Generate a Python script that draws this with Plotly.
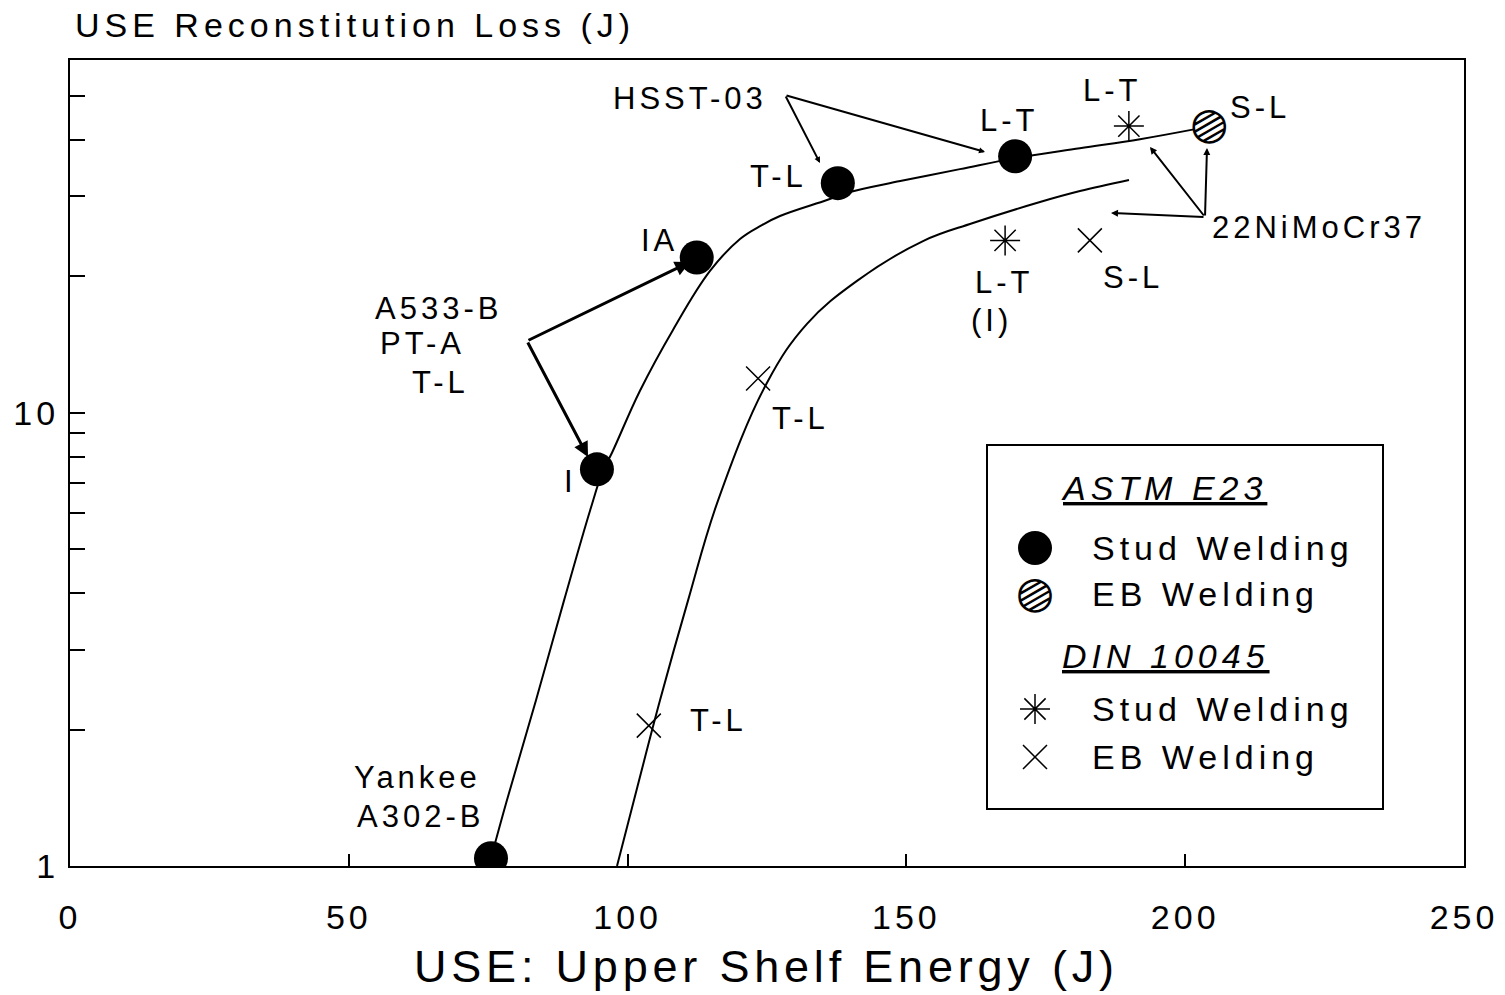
import math
import plotly.graph_objects as go

# ---------------- data ----------------
# ASTM E23 reconstitution, stud welding (filled circles)
use_stud_astm = [75.5, 94.5, 112.4, 137.7, 169.5]
loss_stud_astm = [1.04, 7.5, 22.0, 32.1, 36.8]
# ASTM E23, EB welding (hatched circle)
use_eb_astm = [204.4]
loss_eb_astm = [43.3]
# DIN 10045, stud welding (asterisks)
use_stud_din = [189.9, 167.7]
loss_stud_din = [42.9, 24.0]
# DIN 10045, EB welding (crosses)
use_eb_din = [182.9, 123.4, 103.8]
loss_eb_din = [24.0, 11.9, 2.04]

# hand-drawn trend curves
curve_a_use = [75.5, 78.37, 83.57, 88.59, 93.26, 95.59, 97.2, 102.22, 108.14,
               114.78, 120.16, 124.0, 127.33, 135.76, 139.88, 148.9, 159.6,
               169.5, 181.1, 191.9, 201.8]
curve_a_loss = [1.04, 1.398, 2.32, 3.85, 6.08, 7.45, 8.16, 11.18, 15.23,
                20.55, 24.17, 25.9, 27.16, 29.46, 30.68, 32.44, 34.47,
                36.45, 38.34, 40.13, 42.23]
curve_b_use = [98.1, 101.15, 105.81, 110.83, 116.21, 125.0, 132.17,
               141.14, 152.98, 161.94, 173.96, 181.13, 189.92]
curve_b_loss = [1.0, 1.398, 2.32, 3.85, 6.40, 11.65, 15.71,
                19.54, 23.92, 26.21, 29.16, 30.83, 32.61]

x_ticks = [0, 50, 100, 150, 200, 250]
y_ticks = [1, 2, 3, 4, 5, 6, 7, 8, 9, 10, 20, 30, 40, 50]
y_labels = {1: "1", 10: "10"}

# ---------------- page geometry ----------------
W, H = 1505, 995
L, R, T, B = 70, 1464, 60, 866          # plot area edges in pixels
FONT = "Liberation Sans"


def px(x):
    return (x - L) / (R - L)


def py(y):
    return (B - y) / (B - T)


def spaced(text, ls):
    return f"<span style='letter-spacing:{ls}px'>{text}</span>"


fig = go.Figure()

line_style = dict(color="black", width=2)
fig.add_trace(go.Scatter(x=curve_a_use, y=curve_a_loss, mode="lines",
                         line=dict(shape="spline", smoothing=1.1, **line_style),
                         hoverinfo="skip", showlegend=False))
fig.add_trace(go.Scatter(x=curve_b_use, y=curve_b_loss, mode="lines",
                         line=dict(shape="spline", smoothing=1.1, **line_style),
                         hoverinfo="skip", showlegend=False))

fig.add_trace(go.Scatter(x=use_stud_astm, y=loss_stud_astm, mode="markers",
                         marker=dict(symbol="circle", size=34, color="black"),
                         name="ASTM E23 Stud Welding", showlegend=False))
fig.add_trace(go.Scatter(x=use_eb_astm, y=loss_eb_astm, mode="markers",
                         marker=dict(symbol="circle", size=34, color="white",
                                     line=dict(color="white", width=0)),
                         name="ASTM E23 EB Welding", showlegend=False))
fig.add_trace(go.Scatter(x=use_stud_din, y=loss_stud_din, mode="markers",
                         marker=dict(symbol="asterisk-open", size=25, color="black",
                                     line=dict(color="black", width=1.5)),
                         name="DIN 10045 Stud Welding", showlegend=False))
fig.add_trace(go.Scatter(x=use_eb_din, y=loss_eb_din, mode="markers",
                         marker=dict(symbol="x-thin-open", size=24, color="black",
                                     line=dict(color="black", width=1.5)),
                         name="DIN 10045 EB Welding", showlegend=False))

annotations = []
HATCH = "\u25cd"


def hatched(x, y, xref, yref):
    annotations.append(dict(x=x, y=y, xref=xref, yref=yref, text=HATCH,
                            showarrow=False, textangle=60, xshift=3,
                            xanchor="center", yanchor="middle",
                            font=dict(family="DejaVu Sans", size=44, color="black")))


for u, l in zip(use_eb_astm, loss_eb_astm):
    hatched(u, math.log10(l), "x", "y")

# point labels (pixel positions -> paper)
lab_font = dict(family=FONT, size=31, color="black")
labels = [
    ("HSST-03", 690, 98), ("T-L", 778, 176), ("L-T", 1009, 120),
    ("L-T", 1112, 90), ("S-L", 1260, 107), ("22NiMoCr37", 1319, 227),
    ("L-T", 1004, 282), ("(I)", 991, 320), ("S-L", 1133, 277),
    ("IA", 659, 240), ("A533-B", 438, 308), ("PT-A", 422, 343),
    ("T-L", 441, 383), ("I", 570, 482), ("T-L", 800, 418),
    ("T-L", 718, 720), ("Yankee", 417, 777), ("A302-B", 420, 816),
]
for txt, xx, yy in labels:
    annotations.append(dict(x=px(xx), y=py(yy), xref="paper", yref="paper",
                            text=spaced(txt, 4), showarrow=False, font=lab_font,
                            xanchor="center", yanchor="middle"))

# leader arrows: (tail px, head px, width, head size)
arrows = [
    ((527, 341), (588, 457), 3, 1.0),
    ((527, 341), (690, 262), 3, 1.0),
    ((785, 95), (820, 163), 2, 0.6),
    ((785, 95), (985, 152), 2, 0.6),
    ((1205, 217), (1150, 147), 2, 0.7),
    ((1205, 217), (1207, 148), 2, 0.7),
    ((1205, 217), (1111, 213), 2, 0.7),
]
for (tx, ty), (hx, hy), w, s in arrows:
    annotations.append(dict(x=px(hx), y=py(hy), xref="paper", yref="paper",
                            ax=tx - hx, ay=ty - hy, text="", showarrow=True,
                            arrowhead=2, arrowsize=s, arrowwidth=w,
                            arrowcolor="black", standoff=0, startstandoff=0))

# axis captions
annotations.append(dict(x=px(73), y=py(25), xref="paper", yref="paper",
                        text=spaced("USE Reconstitution Loss (J)", 5),
                        showarrow=False, xanchor="left", yanchor="middle",
                        font=dict(family=FONT, size=34, color="black")))
annotations.append(dict(x=px(766), y=py(966), xref="paper", yref="paper",
                        text=spaced("USE: Upper Shelf Energy (J)", 4.8),
                        showarrow=False, xanchor="center", yanchor="middle",
                        font=dict(family=FONT, size=45, color="black")))

# legend box
leg_font = dict(family=FONT, size=34, color="black")
hdr_font = dict(family=FONT, size=34, color="black", style="italic",
                lineposition="under")
annotations.append(dict(x=px(1164), y=py(488), xref="paper", yref="paper",
                        text=spaced("ASTM E23", 5), showarrow=False, font=hdr_font,
                        xanchor="center", yanchor="middle"))
annotations.append(dict(x=px(1166), y=py(656), xref="paper", yref="paper",
                        text=spaced("DIN 10045", 5), showarrow=False, font=hdr_font,
                        xanchor="center", yanchor="middle"))
leg_rows = [("Stud Welding", 548), ("EB Welding", 594),
            ("Stud Welding", 709), ("EB Welding", 757)]
for txt, yy in leg_rows:
    annotations.append(dict(x=px(1090), y=py(yy), xref="paper", yref="paper",
                            text=spaced(txt, 5), showarrow=False, font=leg_font,
                            xanchor="left", yanchor="middle"))
key_x = px(1035)
hatched(key_x, py(594), "paper", "paper")
fig.add_trace(go.Scatter(x=[key_x], y=[py(548)], xaxis="x2", yaxis="y2",
                         mode="markers", showlegend=False, hoverinfo="skip",
                         marker=dict(symbol="circle", size=34, color="black")))
fig.add_trace(go.Scatter(x=[key_x], y=[py(709)], xaxis="x2", yaxis="y2",
                         mode="markers", showlegend=False, hoverinfo="skip",
                         marker=dict(symbol="asterisk-open", size=25, color="black",
                                     line=dict(color="black", width=1.5))))
fig.add_trace(go.Scatter(x=[key_x], y=[py(757)], xaxis="x2", yaxis="y2",
                         mode="markers", showlegend=False, hoverinfo="skip",
                         marker=dict(symbol="x-thin-open", size=24, color="black",
                                     line=dict(color="black", width=1.5))))

shapes = [dict(type="rect", xref="paper", yref="paper",
               x0=px(987), x1=px(1383), y0=py(809), y1=py(445),
               line=dict(color="black", width=2), fillcolor="rgba(0,0,0,0)")]

fig.update_layout(
    width=W, height=H,
    margin=dict(l=L, r=W - R, t=T, b=H - B, autoexpand=False),
    paper_bgcolor="white", plot_bgcolor="white",
    showlegend=False,
    annotations=annotations, shapes=shapes,
    font=dict(family=FONT, color="black"),
    xaxis=dict(range=[0, 250], showgrid=False, zeroline=False, automargin=False,
               showline=True, linecolor="black", linewidth=2, mirror=True,
               ticks="inside", ticklen=12, tickwidth=1.5, tickcolor="black",
               tickvals=x_ticks, ticktext=[spaced(str(v), 4) for v in x_ticks],
               tickfont=dict(family=FONT, size=34, color="black"),
               ticklabelstandoff=20),
    yaxis=dict(type="log", range=[0, math.log10(60)], showgrid=False,
               zeroline=False, automargin=False, showline=True,
               linecolor="black", linewidth=2,
               mirror=True, ticks="inside", ticklen=15, tickwidth=1.5,
               tickcolor="black", tickvals=y_ticks,
               ticktext=[spaced(y_labels.get(v, ""), 4) for v in y_ticks],
               tickfont=dict(family=FONT, size=34, color="black"),
               ticklabelstandoff=2),
    xaxis2=dict(range=[0, 1], overlaying="x", visible=False, automargin=False),
    yaxis2=dict(range=[0, 1], overlaying="y", visible=False, automargin=False),
)

fig.write_html("out.html")
